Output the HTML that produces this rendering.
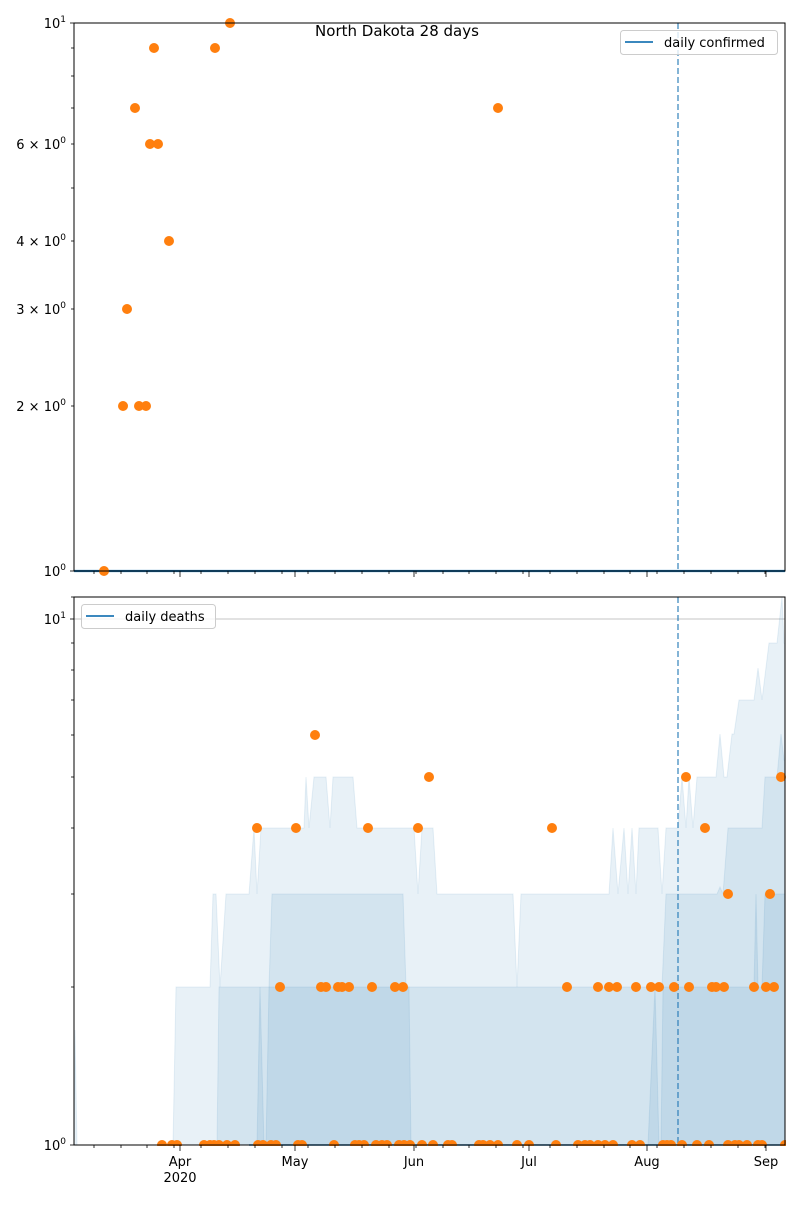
<!DOCTYPE html>
<html><head><meta charset="utf-8"><style>
html,body{margin:0;padding:0;background:#fff}
text{font-family:"DejaVu Sans","Liberation Sans",sans-serif;font-size:13px;fill:#000}
</style></head><body>
<svg width="800" height="1200" xmlns="http://www.w3.org/2000/svg">
<rect width="800" height="1200" fill="#fff"/>
<!-- ===== TOP PANEL ===== -->
<text x="397" y="36" text-anchor="middle" style="font-size:15px">North Dakota 28 days</text>
<line x1="678" y1="23" x2="678" y2="571" stroke="#1f77b4" stroke-opacity="0.55" stroke-width="2" stroke-dasharray="6,3"/>
<line x1="74" y1="571" x2="785" y2="571" stroke="#1f77b4" stroke-width="2.2"/>
<g fill="#ff7f0e">
<circle cx="104" cy="571" r="5"/><circle cx="123" cy="406" r="5"/><circle cx="127" cy="309" r="5"/>
<circle cx="135" cy="108" r="5"/><circle cx="139" cy="406" r="5"/><circle cx="146" cy="406" r="5"/>
<circle cx="150" cy="144" r="5"/><circle cx="154" cy="48" r="5"/><circle cx="158" cy="144" r="5"/>
<circle cx="169" cy="241" r="5"/><circle cx="215" cy="48" r="5"/><circle cx="230" cy="23" r="5"/>
<circle cx="498" cy="108" r="5"/>
</g>
<rect x="74" y="23" width="711" height="548" fill="none" stroke="#000" stroke-width="1"/>
<rect x="620.5" y="30.5" width="157" height="24" rx="3" fill="#fff" fill-opacity="0.8" stroke="#ccc"/>
<line x1="625" y1="42" x2="653" y2="42" stroke="#1f77b4" stroke-width="1.8"/>
<text x="664" y="47">daily confirmed</text>
<g stroke="#000" stroke-width="0.8">
<line x1="70" y1="23" x2="74" y2="23"/><line x1="70" y1="571" x2="74" y2="571"/>
<line x1="71" y1="406" x2="74" y2="406"/><line x1="71" y1="309" x2="74" y2="309"/>
<line x1="71" y1="241" x2="74" y2="241"/><line x1="71" y1="188" x2="74" y2="188"/>
<line x1="71" y1="144" x2="74" y2="144"/><line x1="71" y1="108" x2="74" y2="108"/>
<line x1="71" y1="76" x2="74" y2="76"/><line x1="71" y1="48" x2="74" y2="48"/>
</g>
<text x="66" y="28" text-anchor="end">10<tspan dy="-6" style="font-size:9px">1</tspan></text>
<text x="66" y="149" text-anchor="end">6 × 10<tspan dy="-6" style="font-size:9px">0</tspan></text>
<text x="66" y="246" text-anchor="end">4 × 10<tspan dy="-6" style="font-size:9px">0</tspan></text>
<text x="66" y="314" text-anchor="end">3 × 10<tspan dy="-6" style="font-size:9px">0</tspan></text>
<text x="66" y="411" text-anchor="end">2 × 10<tspan dy="-6" style="font-size:9px">0</tspan></text>
<text x="66" y="576" text-anchor="end">10<tspan dy="-6" style="font-size:9px">0</tspan></text>
<g stroke="#000" stroke-width="0.8">
<line x1="180" y1="571" x2="180" y2="577"/><line x1="295" y1="571" x2="295" y2="577"/><line x1="414" y1="571" x2="414" y2="577"/>
<line x1="529" y1="571" x2="529" y2="577"/><line x1="647" y1="571" x2="647" y2="577"/><line x1="766" y1="571" x2="766" y2="577"/>
<line x1="94" y1="571" x2="94" y2="574"/><line x1="121" y1="571" x2="121" y2="574"/><line x1="147" y1="571" x2="147" y2="574"/>
<line x1="174" y1="571" x2="174" y2="574"/><line x1="201" y1="571" x2="201" y2="574"/><line x1="228" y1="571" x2="228" y2="574"/>
<line x1="255" y1="571" x2="255" y2="574"/><line x1="282" y1="571" x2="282" y2="574"/><line x1="308" y1="571" x2="308" y2="574"/>
<line x1="335" y1="571" x2="335" y2="574"/><line x1="362" y1="571" x2="362" y2="574"/><line x1="389" y1="571" x2="389" y2="574"/>
<line x1="416" y1="571" x2="416" y2="574"/><line x1="443" y1="571" x2="443" y2="574"/><line x1="469" y1="571" x2="469" y2="574"/>
<line x1="496" y1="571" x2="496" y2="574"/><line x1="523" y1="571" x2="523" y2="574"/><line x1="550" y1="571" x2="550" y2="574"/>
<line x1="577" y1="571" x2="577" y2="574"/><line x1="604" y1="571" x2="604" y2="574"/><line x1="630" y1="571" x2="630" y2="574"/>
<line x1="657" y1="571" x2="657" y2="574"/><line x1="684" y1="571" x2="684" y2="574"/><line x1="711" y1="571" x2="711" y2="574"/>
<line x1="738" y1="571" x2="738" y2="574"/><line x1="765" y1="571" x2="765" y2="574"/>
</g>

<!-- ===== BOTTOM PANEL ===== -->
<line x1="74" y1="619" x2="785" y2="619" stroke="#b0b0b0" stroke-width="0.8"/>
<polygon fill="#1f77b4" fill-opacity="0.1" stroke="#1f77b4" stroke-opacity="0.1" points="74,1145 75,1030 77,1145 173,1145 176,987 210,987 213,894 216,894 220,987 226,894 249,894 254,828 257,894 261,828 304,828 306,777 309,828 314,777 326,777 330,828 333,777 353,777 357,828 414,828 418,894 422,828 430,828 433,828 437,894 513,894 517,987 521,894 609,894 613,828 618,894 624,828 628,894 632,828 636,894 639,828 658,828 662,894 666,828 678,828 682,777 686,828 689,777 693,828 697,777 716,777 720,734 724,777 727,777 732,734 734,734 739,700 754,700 758,668 762,700 769,643 777,643 782,597 784,643 785,643 785,1145"/>
<polygon fill="#1f77b4" fill-opacity="0.1" stroke="#1f77b4" stroke-opacity="0.1" points="217,1145 219,987 269,987 272,894 403,894 406,987 662,987 666,894 717,894 720,887 723,894 728,828 762,828 765,777 777,777 781,734 784,760 785,760 785,1145"/>
<polygon fill="#1f77b4" fill-opacity="0.1" stroke="#1f77b4" stroke-opacity="0.1" points="257,1145 260,987 264,1145 266,1145 269,987 409,987 411,1145 648,1145 655,987 659,1145 661,1145 663,987 754,987 756,894 758,987 762,987 765,894 785,894 785,1145"/>
<line x1="678" y1="597" x2="678" y2="1145" stroke="#1f77b4" stroke-opacity="0.55" stroke-width="2" stroke-dasharray="6,3"/>
<line x1="249" y1="1145" x2="785" y2="1145" stroke="#1f77b4" stroke-width="1.5"/>
<g fill="#ff7f0e">
<circle cx="315" cy="735" r="5"/>
<circle cx="429" cy="777" r="5"/><circle cx="686" cy="777" r="5"/><circle cx="781" cy="777" r="5"/>
<circle cx="257" cy="828" r="5"/><circle cx="296" cy="828" r="5"/><circle cx="368" cy="828" r="5"/><circle cx="418" cy="828" r="5"/><circle cx="552" cy="828" r="5"/><circle cx="705" cy="828" r="5"/>
<circle cx="728" cy="894" r="5"/><circle cx="770" cy="894" r="5"/>
<circle cx="280" cy="987" r="5"/><circle cx="321" cy="987" r="5"/><circle cx="326" cy="987" r="5"/><circle cx="338" cy="987" r="5"/><circle cx="342" cy="987" r="5"/><circle cx="349" cy="987" r="5"/><circle cx="372" cy="987" r="5"/><circle cx="395" cy="987" r="5"/><circle cx="403" cy="987" r="5"/><circle cx="567" cy="987" r="5"/><circle cx="598" cy="987" r="5"/><circle cx="609" cy="987" r="5"/><circle cx="617" cy="987" r="5"/><circle cx="636" cy="987" r="5"/><circle cx="651" cy="987" r="5"/><circle cx="659" cy="987" r="5"/><circle cx="674" cy="987" r="5"/><circle cx="689" cy="987" r="5"/><circle cx="712" cy="987" r="5"/><circle cx="716" cy="987" r="5"/><circle cx="724" cy="987" r="5"/><circle cx="754" cy="987" r="5"/><circle cx="766" cy="987" r="5"/><circle cx="774" cy="987" r="5"/>
<circle cx="162" cy="1145" r="5"/><circle cx="172" cy="1145" r="5"/><circle cx="177" cy="1145" r="5"/><circle cx="204" cy="1145" r="5"/><circle cx="210" cy="1145" r="5"/><circle cx="214" cy="1145" r="5"/><circle cx="219" cy="1145" r="5"/><circle cx="227" cy="1145" r="5"/><circle cx="235" cy="1145" r="5"/><circle cx="258" cy="1145" r="5"/><circle cx="263" cy="1145" r="5"/><circle cx="271" cy="1145" r="5"/><circle cx="276" cy="1145" r="5"/><circle cx="298" cy="1145" r="5"/><circle cx="302" cy="1145" r="5"/><circle cx="334" cy="1145" r="5"/><circle cx="355" cy="1145" r="5"/><circle cx="359" cy="1145" r="5"/><circle cx="364" cy="1145" r="5"/><circle cx="376" cy="1145" r="5"/><circle cx="382" cy="1145" r="5"/><circle cx="387" cy="1145" r="5"/><circle cx="399" cy="1145" r="5"/><circle cx="404" cy="1145" r="5"/><circle cx="410" cy="1145" r="5"/><circle cx="422" cy="1145" r="5"/><circle cx="433" cy="1145" r="5"/><circle cx="448" cy="1145" r="5"/><circle cx="452" cy="1145" r="5"/><circle cx="479" cy="1145" r="5"/><circle cx="483" cy="1145" r="5"/><circle cx="490" cy="1145" r="5"/><circle cx="498" cy="1145" r="5"/><circle cx="517" cy="1145" r="5"/><circle cx="529" cy="1145" r="5"/><circle cx="556" cy="1145" r="5"/><circle cx="578" cy="1145" r="5"/><circle cx="585" cy="1145" r="5"/><circle cx="590" cy="1145" r="5"/><circle cx="598" cy="1145" r="5"/><circle cx="605" cy="1145" r="5"/><circle cx="613" cy="1145" r="5"/><circle cx="632" cy="1145" r="5"/><circle cx="640" cy="1145" r="5"/><circle cx="663" cy="1145" r="5"/><circle cx="667" cy="1145" r="5"/><circle cx="671" cy="1145" r="5"/><circle cx="682" cy="1145" r="5"/><circle cx="697" cy="1145" r="5"/><circle cx="709" cy="1145" r="5"/><circle cx="728" cy="1145" r="5"/><circle cx="735" cy="1145" r="5"/><circle cx="739" cy="1145" r="5"/><circle cx="747" cy="1145" r="5"/><circle cx="758" cy="1145" r="5"/><circle cx="762" cy="1145" r="5"/><circle cx="785" cy="1145" r="5"/>
</g>
<rect x="0" y="1146" width="800" height="54" fill="#fff"/>
<rect x="786" y="597" width="14" height="560" fill="#fff"/>
<rect x="74" y="597" width="711" height="548" fill="none" stroke="#000" stroke-width="1"/>
<rect x="81.5" y="604.5" width="134" height="24" rx="3" fill="#fff" fill-opacity="0.8" stroke="#ccc"/>
<line x1="86" y1="616" x2="114" y2="616" stroke="#1f77b4" stroke-width="1.8"/>
<text x="125" y="621">daily deaths</text>
<g stroke="#000" stroke-width="0.8">
<line x1="70" y1="619" x2="74" y2="619"/><line x1="70" y1="1145" x2="74" y2="1145"/>
<line x1="71" y1="987" x2="74" y2="987"/><line x1="71" y1="894" x2="74" y2="894"/>
<line x1="71" y1="828" x2="74" y2="828"/><line x1="71" y1="777" x2="74" y2="777"/>
<line x1="71" y1="735" x2="74" y2="735"/><line x1="71" y1="700" x2="74" y2="700"/>
<line x1="71" y1="670" x2="74" y2="670"/><line x1="71" y1="643" x2="74" y2="643"/>
<line x1="71" y1="597" x2="74" y2="597"/>
</g>
<text x="66" y="624" text-anchor="end">10<tspan dy="-6" style="font-size:9px">1</tspan></text>
<text x="66" y="1150" text-anchor="end">10<tspan dy="-6" style="font-size:9px">0</tspan></text>
<g stroke="#000" stroke-width="0.8">
<line x1="180" y1="1145" x2="180" y2="1151"/><line x1="295" y1="1145" x2="295" y2="1151"/><line x1="414" y1="1145" x2="414" y2="1151"/>
<line x1="529" y1="1145" x2="529" y2="1151"/><line x1="647" y1="1145" x2="647" y2="1151"/><line x1="766" y1="1145" x2="766" y2="1151"/>
<line x1="94" y1="1145" x2="94" y2="1148"/><line x1="121" y1="1145" x2="121" y2="1148"/><line x1="147" y1="1145" x2="147" y2="1148"/>
<line x1="174" y1="1145" x2="174" y2="1148"/><line x1="201" y1="1145" x2="201" y2="1148"/><line x1="228" y1="1145" x2="228" y2="1148"/>
<line x1="255" y1="1145" x2="255" y2="1148"/><line x1="282" y1="1145" x2="282" y2="1148"/><line x1="308" y1="1145" x2="308" y2="1148"/>
<line x1="335" y1="1145" x2="335" y2="1148"/><line x1="362" y1="1145" x2="362" y2="1148"/><line x1="389" y1="1145" x2="389" y2="1148"/>
<line x1="416" y1="1145" x2="416" y2="1148"/><line x1="443" y1="1145" x2="443" y2="1148"/><line x1="469" y1="1145" x2="469" y2="1148"/>
<line x1="496" y1="1145" x2="496" y2="1148"/><line x1="523" y1="1145" x2="523" y2="1148"/><line x1="550" y1="1145" x2="550" y2="1148"/>
<line x1="577" y1="1145" x2="577" y2="1148"/><line x1="604" y1="1145" x2="604" y2="1148"/><line x1="630" y1="1145" x2="630" y2="1148"/>
<line x1="657" y1="1145" x2="657" y2="1148"/><line x1="684" y1="1145" x2="684" y2="1148"/><line x1="711" y1="1145" x2="711" y2="1148"/>
<line x1="738" y1="1145" x2="738" y2="1148"/><line x1="765" y1="1145" x2="765" y2="1148"/>
</g>
<text x="180" y="1166" text-anchor="middle">Apr</text>
<text x="180" y="1182" text-anchor="middle">2020</text>
<text x="295" y="1166" text-anchor="middle">May</text>
<text x="414" y="1166" text-anchor="middle">Jun</text>
<text x="529" y="1166" text-anchor="middle">Jul</text>
<text x="647" y="1166" text-anchor="middle">Aug</text>
<text x="766" y="1166" text-anchor="middle">Sep</text>
</svg>
</body></html>
